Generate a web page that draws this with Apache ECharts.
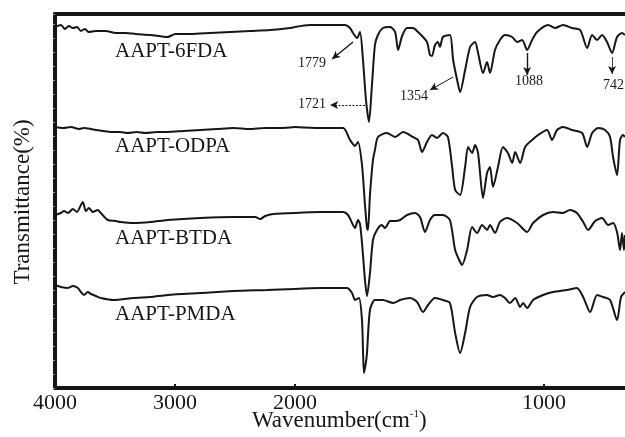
<!DOCTYPE html>
<html>
<head>
<meta charset="utf-8">
<script src="https://cdn.jsdelivr.net/npm/echarts@6/dist/echarts.min.js"></script>
<style>
  html, body { margin: 0; padding: 0; background: #fff; }
  #chart { width: 625px; height: 437px; }
</style>
</head>
<body>
<div id="chart"></div>
<script>
// wavenumber (cm-1), transmittance (a.u., stacked offsets)
const fda6Hi = [[4000,361],[3950,363],[3917,359],[3884,362],[3851,360],[3817,361],[3784,357],[3751,359],[3718,356],[3660,357],[3577,357],[3494,355],[3411,355],[3328,354],[3203,353],[3062,351],[2996,354],[2871,354],[2705,355],[2539,356],[2373,357],[2207,358],[2041,360],[2000,361]];
const fda6Lo = [[2000,361],[1940,363],[1859,363],[1799,363],[1779,360],[1767,355],[1751,350],[1739,356],[1727,328],[1715,288],[1703,266],[1691,303],[1679,343],[1667,353],[1647,360],[1618,361],[1598,356],[1586,338],[1570,352],[1550,360],[1526,360],[1506,356],[1486,351],[1470,346],[1458,333],[1450,332],[1438,343],[1426,346],[1418,341],[1406,351],[1378,353],[1365,328],[1349,308],[1337,296],[1317,318],[1297,341],[1277,346],[1265,335],[1245,315],[1229,326],[1217,315],[1197,338],[1177,348],[1157,353],[1128,351],[1108,346],[1088,348],[1068,338],[1048,348],[1028,356],[984,363],[956,360],[924,363],[888,360],[855,358],[827,340],[807,353],[787,348],[767,353],[747,346],[727,335],[707,351],[687,355],[675,353]];

const odpaHi = [[4000,261],[3930,260],[3867,261],[3800,259],[3759,260],[3700,259],[3660,258],[3600,257],[3535,256],[3460,256],[3394,255],[3320,256],[3245,255],[3150,256],[3062,256],[2930,257],[2788,258],[2650,259],[2514,260],[2380,259],[2249,260],[2120,260],[2000,261]];
const odpaLo = [[2000,261],[1900,260],[1807,260],[1779,248],[1759,242],[1747,246],[1731,223],[1719,183],[1711,160],[1707,158],[1699,193],[1687,228],[1679,238],[1667,251],[1631,255],[1598,251],[1566,256],[1526,251],[1506,248],[1490,236],[1470,246],[1450,253],[1430,250],[1406,255],[1386,251],[1369,221],[1357,198],[1337,193],[1317,221],[1305,241],[1289,235],[1277,243],[1265,235],[1245,190],[1229,215],[1217,221],[1205,201],[1185,221],[1165,241],[1145,235],[1128,225],[1116,236],[1096,225],[1076,241],[1048,248],[1024,253],[988,258],[968,248],[948,258],[924,261],[888,258],[847,255],[827,241],[807,255],[783,260],[755,258],[735,251],[723,231],[707,213],[695,248],[683,253],[675,251]];

const btdaHi = [[4000,173],[3950,175],[3925,177],[3892,175],[3851,179],[3817,176],[3784,183],[3768,186],[3743,177],[3718,180],[3685,176],[3643,178],[3618,175],[3560,168],[3494,167],[3452,166],[3344,165],[3203,166],[3062,168],[2788,170],[2514,171],[2332,171],[2290,169],[2249,172],[2182,174],[2000,175]];
const btdaLo = [[2000,175],[1900,176],[1807,176],[1787,173],[1771,165],[1759,160],[1747,168],[1739,164],[1731,145],[1719,108],[1711,92],[1699,115],[1687,148],[1671,158],[1651,163],[1639,160],[1618,167],[1598,167],[1578,168],[1550,173],[1518,175],[1498,171],[1478,156],[1458,168],[1438,173],[1406,173],[1378,168],[1357,138],[1337,126],[1329,123],[1309,138],[1289,161],[1269,155],[1249,163],[1229,158],[1217,163],[1197,155],[1177,166],[1149,170],[1108,165],[1068,156],[1044,165],[1004,173],[964,176],[924,175],[896,178],[868,175],[843,166],[823,158],[795,167],[767,170],[743,163],[723,165],[707,156],[695,138],[687,155],[679,138],[675,153]];

const pmdaHi = [[4000,103],[3950,101],[3892,100],[3851,102],[3809,100],[3784,96],[3759,93],[3726,96],[3701,94],[3660,92],[3618,90],[3510,88],[3344,90],[3203,91],[3062,93],[2788,95],[2514,97],[2232,98],[2000,99]];
const pmdaLo = [[2000,99],[1900,100],[1791,100],[1771,95],[1759,88],[1743,90],[1731,68],[1727,38],[1723,15],[1715,26],[1711,35],[1699,78],[1679,88],[1647,88],[1606,85],[1578,88],[1538,90],[1510,86],[1486,76],[1466,83],[1438,90],[1406,88],[1378,85],[1357,55],[1337,35],[1317,55],[1297,81],[1269,91],[1229,93],[1205,91],[1177,93],[1157,90],[1137,85],[1116,90],[1096,81],[1084,85],[1068,80],[1044,88],[1004,93],[964,96],[908,98],[868,100],[843,91],[815,76],[787,93],[763,91],[735,88],[707,68],[691,91],[675,96]];

const sampleNames = ["AAPT-6FDA", "AAPT-ODPA", "AAPT-BTDA", "AAPT-PMDA"];
const peakNames = ["1779", "1721", "1354", "1088", "742"];
// arrows: [from, to] in [wavenumber, transmittance]
const peakArrows = [
  [[1767, 346], [1851, 329]],
  [[1719, 283], [1859, 283]],
  [[1365, 311], [1458, 298]],
  [[1068, 335], [1068, 313]],
  [[727, 331], [727, 314]]
];

const FONT = "'Liberation Serif', 'DejaVu Serif', serif";
const INK = "#161616";

const chart = echarts.init(document.getElementById("chart"));

function line(name, data, idx, extra) {
  return Object.assign({
    name, type: "line", data, xAxisIndex: idx, yAxisIndex: idx,
    showSymbol: false, smooth: 0.25, animation: false,
    lineStyle: { color: INK, width: 2 }
  }, extra || {});
}

const arrowStyles = [
  { width: 1.4, type: "solid" },
  { width: 1, type: [2, 1.5] },
  { width: 1, type: "solid" },
  { width: 1.4, type: "solid" },
  { width: 0.8, type: "solid" }
];

const markLine = {
  silent: true, animation: false,
  symbol: ["none", "arrow"], symbolSize: [6, 8],
  label: { show: false },
  data: peakArrows.map((a, i) => [
    { coord: a[0], lineStyle: Object.assign({ color: INK }, arrowStyles[i]) },
    { coord: a[1] }
  ])
};

const baseX = {
  type: "value", inverse: true, splitLine: { show: false },
  axisLine: { show: true, lineStyle: { color: INK, width: 4 } },
  axisTick: { show: true, inside: true, length: 4, lineStyle: { color: INK, width: 2 } },
  axisLabel: { color: INK, fontFamily: FONT, fontSize: 22, margin: 4, formatter: v => String(v) }
};
const topX = {
  type: "value", inverse: true, position: "top", splitLine: { show: false },
  axisLine: { show: true, lineStyle: { color: INK, width: 4 } },
  axisTick: { show: false }, axisLabel: { show: false }
};

const labelY = [54, 149, 241, 317];
const peakPos = [[298, 64], [298, 105], [400, 97], [515, 82], [603, 86]];

chart.setOption({
  backgroundColor: "#fff",
  animation: false,
  grid: [
    { left: 55, right: 330, top: 14, bottom: 49 },
    { left: 295, right: 0, top: 14, bottom: 49 }
  ],
  xAxis: [
    Object.assign({}, baseX, { gridIndex: 0, min: 2000, max: 4000, interval: 1000 }),
    Object.assign({}, baseX, {
      gridIndex: 1, min: 675, max: 2000,
      axisLabel: Object.assign({}, baseX.axisLabel, { customValues: [1000] }),
      axisTick: Object.assign({}, baseX.axisTick, { customValues: [1000] })
    }),
    Object.assign({}, topX, { gridIndex: 0, min: 2000, max: 4000 }),
    Object.assign({}, topX, { gridIndex: 1, min: 675, max: 2000 })
  ],
  yAxis: [
    {
      gridIndex: 0, type: "value", min: 0, max: 374, interval: 14,
      splitLine: { show: false },
      axisLine: { show: true, lineStyle: { color: INK, width: 4 } },
      axisTick: { show: true, length: 2, lineStyle: { color: "#999", width: 1 } },
      axisLabel: { show: false }
    },
    { gridIndex: 1, type: "value", min: 0, max: 374, show: false }
  ],
  series: [
    line(sampleNames[0], fda6Hi, 0),
    line(sampleNames[0], fda6Lo, 1, { markLine }),
    line(sampleNames[1], odpaHi, 0),
    line(sampleNames[1], odpaLo, 1),
    line(sampleNames[2], btdaHi, 0),
    line(sampleNames[2], btdaLo, 1),
    line(sampleNames[3], pmdaHi, 0),
    line(sampleNames[3], pmdaLo, 1)
  ],
  graphic: [
    ...sampleNames.map((t, i) => ({
      type: "text", left: 115, top: labelY[i] - 13, silent: true,
      style: { text: t, font: `21px ${FONT}`, fill: INK }
    })),
    ...peakNames.map((t, i) => ({
      type: "text", left: peakPos[i][0], top: peakPos[i][1] - 8, silent: true,
      style: { text: t, font: `14px ${FONT}`, fill: INK }
    })),
    {
      type: "text", left: 252, top: 409, silent: true,
      style: {
        text: "Wavenumber(cm{s|-1})",
        font: `23px ${FONT}`, fill: INK,
        rich: { s: { fontSize: 11, fontFamily: FONT, verticalAlign: "top", padding: [0, 0, 10, 0] } }
      }
    },
    {
      type: "text", x: 23, y: 202, rotation: Math.PI / 2, silent: true,
      style: { text: "Transmittance(%)", font: `23px ${FONT}`, fill: INK, align: "center", verticalAlign: "middle" }
    }
  ]
});
</script>
</body>
</html>
